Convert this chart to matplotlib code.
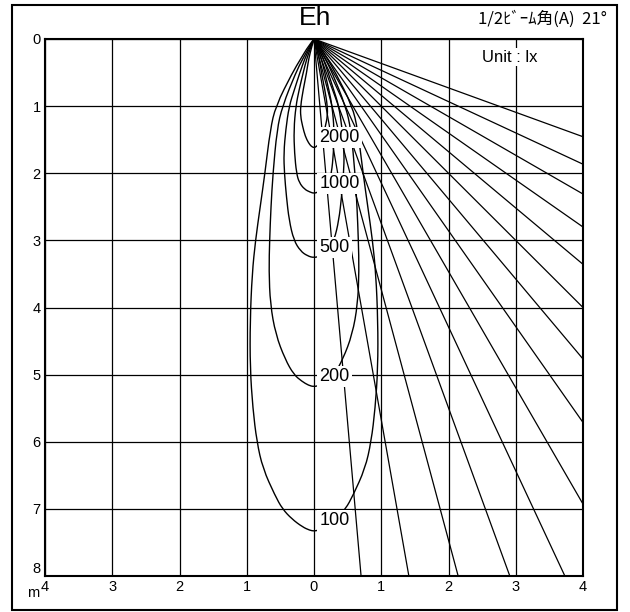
import numpy as np
import matplotlib
matplotlib.use("Agg")
import matplotlib.pyplot as plt
from matplotlib.path import Path
from matplotlib.patches import PathPatch, Rectangle

plt.rcParams['font.family'] = ['Liberation Sans Narrow', 'Liberation Sans', 'DejaVu Sans']

# isolux levels (lx) with depth / half width of each loop
LEVELS = [2000, 1000, 500, 200, 100]

Y_2000 = [0, 0.1, 0.3, 0.5, 0.75, 1.0, 1.15, 1.3, 1.45, 1.55, 1.6, 1.62]
W_2000 = [0, 0.03, 0.08, 0.11, 0.16, 0.2, 0.2, 0.17, 0.13, 0.08, 0.04, 0]

Y_1000 = [0, 0.1, 0.3, 0.5, 0.75, 1.0, 1.35, 1.7, 2.0, 2.14, 2.24, 2.28, 2.30]
W_1000 = [0, 0.04, 0.11, 0.16, 0.22, 0.27, 0.3, 0.29, 0.26, 0.22, 0.14, 0.06, 0]

Y_500 = [0, 0.1, 0.3, 0.5, 0.75, 1.0, 1.35, 1.7, 2.0, 2.35, 2.7, 3.0, 3.16, 3.23, 3.26]
W_500 = [0, 0.05, 0.14, 0.21, 0.29, 0.37, 0.42, 0.45, 0.44, 0.41, 0.37, 0.3, 0.2, 0.1, 0]

Y_200 = [0, 0.1, 0.3, 0.5, 1.0, 1.35, 2.0, 2.5, 3.0, 3.45, 3.95, 4.4, 4.77, 5.0, 5.1, 5.16, 5.18]
W_200 = [0, 0.06, 0.17, 0.27, 0.47, 0.55, 0.61, 0.64, 0.66, 0.67, 0.65, 0.57, 0.43, 0.3, 0.18, 0.08, 0]

Y_100 = [0, 0.1, 0.3, 0.5, 1.0, 1.35, 2.0, 2.5, 3.0, 3.5, 4.2, 4.9, 5.5, 6.0, 6.4, 6.8, 7.0, 7.15, 7.27, 7.32, 7.33]
W_100 = [0, 0.08, 0.2, 0.32, 0.57, 0.65, 0.73, 0.8, 0.87, 0.92, 0.95, 0.95, 0.91, 0.85, 0.76, 0.58, 0.47, 0.33, 0.17, 0.06, 0]

LOOPS = {2000: (Y_2000, W_2000), 1000: (Y_1000, W_1000), 500: (Y_500, W_500),
         200: (Y_200, W_200), 100: (Y_100, W_100)}

# beam angle rays (deg from vertical)
RAY_ANGLES = [5, 10, 15, 20, 25, 30, 35, 40, 45, 50, 55, 60, 65, 70]

X_TICKS = [-4, -3, -2, -1, 0, 1, 2, 3, 4]
X_LABELS = ['4', '3', '2', '1', '0', '1', '2', '3', '4']
Y_TICKS = [0, 1, 2, 3, 4, 5, 6, 7, 8]


def smooth_path(pts):
    verts = [pts[0]]
    codes = [Path.MOVETO]
    for i in range(1, len(pts) - 1):
        mid = ((pts[i][0] + pts[i + 1][0]) / 2, (pts[i][1] + pts[i + 1][1]) / 2)
        verts += [pts[i], mid]
        codes += [Path.CURVE3, Path.CURVE3]
    verts.append(pts[-1])
    codes.append(Path.LINETO)
    return Path(verts, codes)


fig = plt.figure(figsize=(6.3, 6.12), dpi=100)
ax = fig.add_axes([45 / 630, 36 / 612, 538 / 630, 537 / 612])

# outer frame
fig.patches.append(Rectangle((12 / 630, 2 / 612), 605 / 630, 605 / 612,
                             transform=fig.transFigure, fill=False,
                             edgecolor='black', linewidth=1.5))

for a in RAY_ANGLES:
    t = np.radians(a)
    ax.plot([0, 20 * np.sin(t)], [0, 20 * np.cos(t)], color='black', lw=0.9, zorder=2)

for lev in LEVELS:
    ys, ws = LOOPS[lev]
    left = [(-w, y) for y, w in zip(ys, ws)]
    right = [(w, y) for y, w in zip(ys[::-1], ws[::-1])][1:]
    ax.add_patch(PathPatch(smooth_path(left + right), fill=False,
                           edgecolor='black', lw=1.0, zorder=3))
    d = ys[-1]
    ax.text(0.08, d - 0.15, str(lev), ha='left', va='center', fontsize=13,
            zorder=6, bbox=dict(facecolor='white', edgecolor='none', pad=1.5))

ax.text(2.5, 0.27, 'Unit : lx', ha='left', va='center', fontsize=12,
        zorder=6, bbox=dict(facecolor='white', edgecolor='none', pad=1.0))

ax.set_xlim(-4, 4)
ax.set_ylim(8, 0)
ax.set_xticks(X_TICKS)
ax.set_xticklabels(X_LABELS)
ax.set_yticks(Y_TICKS)
ax.set_yticklabels([str(v) for v in Y_TICKS])
ax.tick_params(length=0, labelsize=10.5, pad=3)
ax.grid(True, color='black', lw=0.9)
ax.set_axisbelow(True)
for s in ax.spines.values():
    s.set_linewidth(1.5)
ax.get_yticklabels()[-1].set_va('bottom')

fig.text(315 / 630, 1 - 18 / 612, 'Eh', ha='center', va='center', fontsize=19,
         family=['Liberation Sans', 'DejaVu Sans'])
fig.text(607 / 630, 1 - 19 / 612, '1/2ﾋﾞｰﾑ角(A)  21°', ha='right', va='center',
         fontsize=12, family=['Noto Sans CJK JP', 'DejaVu Sans'])
fig.text(33 / 630, 1 - 593 / 612, 'm', ha='center', va='center', fontsize=10.5)

fig.savefig('out.png', dpi=100)
